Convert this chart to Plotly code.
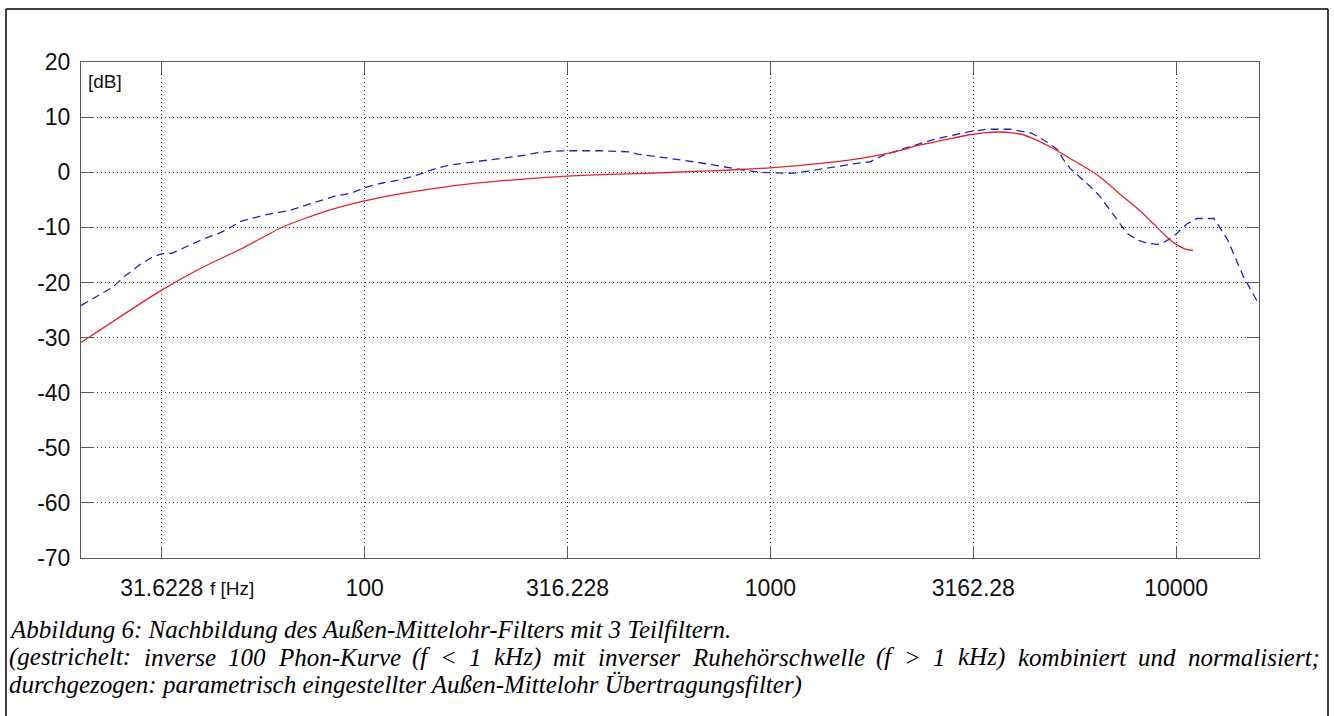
import plotly.graph_objects as go

# ---- axis ticks -------------------------------------------------------
tick_freqs = [10 ** 1.5, 100, 10 ** 2.5, 1000, 10 ** 3.5, 10000]
tick_text = ["31.6228", "100", "316.228", "1000", "3162.28", "10000"]
db_ticks = [20, 10, 0, -10, -20, -30, -40, -50, -60, -70]

# ---- dashed: inverse 100-phon curve / inverse threshold in quiet --------
ref_freq = [20, 21, 22.5, 24, 25.5, 27.9, 30, 31.6, 33.5, 36, 39.5, 43.7, 46,
            49.5, 53, 57.3, 65.6, 70, 76, 84, 92.5, 101, 110, 122, 135, 142,
            150, 162, 175, 189, 210, 228, 250, 265, 290, 316, 380, 450, 470,
            540, 600, 646, 700, 752, 820, 873, 940, 1000, 1100, 1163, 1300,
            1461, 1600, 1760, 1900, 2200, 2570, 2850, 3090, 3420, 3900, 4400,
            4850, 5120, 5250, 5480, 5800, 6140, 6460, 6760, 7200, 7570, 8030,
            8500, 8980, 9400, 9830, 10200, 10620, 11250, 12400, 13400, 14660,
            16000]
ref_db = [-24.2, -23.3, -22.0, -20.8, -19.0, -16.8, -15.4, -14.8, -14.7, -13.6,
          -12.3, -11.1, -10.3, -8.9, -8.3, -7.7, -6.9, -6.3, -5.4, -4.4, -3.8,
          -2.7, -2.0, -1.4, -0.5, 0.1, 0.7, 1.3, 1.6, 1.9, 2.3, 2.7, 3.1, 3.5,
          3.8, 3.9, 3.9, 3.7, 3.3, 2.7, 2.3, 1.9, 1.5, 1.1, 0.7, 0.3, 0.0, -0.1,
          -0.2, -0.1, 0.5, 1.0, 1.5, 1.9, 3.1, 4.6, 6.1, 6.8, 7.35, 7.8, 7.8,
          7.1, 5.3, 4.0, 2.5, 0.7, -0.9, -2.6, -4.2, -6.2, -8.8, -11.1, -12.3,
          -12.9, -13.1, -12.6, -11.7, -10.6, -9.4, -8.4, -8.4, -12.3, -19.0,
          -24.0]

# ---- solid: parametric outer/middle ear transfer filter -----------------
filt_freq = [20, 25, 31.6, 40, 50, 63, 80, 100, 125, 160, 200, 250, 316, 400,
             500, 630, 800, 1000, 1330, 1760, 2000, 2330, 2700, 3090, 3400,
             3650, 3900, 4200, 4500, 4980, 5480, 6000, 6500, 7000, 7500, 8000,
             8500, 9000, 9500, 10000, 10500, 11000]
filt_db = [-30.9, -26.2, -21.4, -17.2, -13.8, -9.9, -7.1, -5.2, -3.8, -2.6,
           -1.8, -1.2, -0.7, -0.4, -0.2, 0.1, 0.4, 0.8, 1.6, 2.8, 3.6, 4.9,
           5.9, 6.8, 7.2, 7.3, 7.2, 6.8, 5.9, 4.3, 2.5, 0.8, -0.9, -2.9, -4.8,
           -6.5, -8.3, -10.1, -11.8, -13.1, -13.9, -14.2]

# ---- caption ------------------------------------------------------------
caption_1 = "Abbildung 6: Nachbildung des Außen-Mittelohr-Filters mit 3 Teilfiltern."
caption_2_words = ["(gestrichelt:", "inverse", "100", "Phon-Kurve", "(f", "<",
                   "1", "kHz)", "mit", "inverser", "Ruhehörschwelle", "(f",
                   ">", "1", "kHz)", "kombiniert", "und", "normalisiert;"]
# left edge of each word of the justified second line (px)
caption_2_left = [8, 142.5, 227, 277, 411, 439, 468, 493, 552, 597, 691, 875,
                  903, 932, 957, 1016.5, 1137, 1187]
caption_3 = "durchgezogen: parametrisch eingestellter Außen-Mittelohr Übertragungsfilter)"

# ---- page geometry (pixels) --------------------------------------------
W, H = 1334, 716
L, R, T, B = 81, 1259, 62, 558


def xp(px):
    return (px - L) / (R - L)


def yp(py):
    return (B - py) / (B - T)


fig = go.Figure()
fig.add_trace(go.Scatter(
    x=ref_freq, y=ref_db, mode="lines",
    line=dict(color="#2424b8", width=1.3, dash="8px,5px"),
    showlegend=False, hoverinfo="skip"))
fig.add_trace(go.Scatter(
    x=filt_freq, y=filt_db, mode="lines",
    line=dict(color="#e4222a", width=1.3, shape="spline", smoothing=0.5),
    showlegend=False, hoverinfo="skip"))

axis_common = dict(
    showline=True, linecolor="#5a5a5a", linewidth=1, mirror="ticks",
    ticks="inside", ticklen=12, tickcolor="#5a5a5a", tickwidth=1,
    showgrid=True, gridcolor="#3c3c3c", gridwidth=1, griddash="1px,3px",
    zeroline=False,
    tickfont=dict(family="Liberation Sans, Arial, sans-serif", size=23,
                  color="#111"),
)

fig.update_xaxes(type="log", range=[1.30103, 4.20412], tickvals=tick_freqs,
                 ticktext=tick_text, ticklabelstandoff=9, **axis_common)
fig.update_yaxes(range=[-70, 20], tickvals=db_ticks,
                 ticktext=[str(v) for v in db_ticks], ticklabelstandoff=5,
                 **axis_common)

label_font = dict(family="Liberation Sans, Arial, sans-serif", size=19,
                  color="#111")
annotations = [
    dict(text="[dB]", x=xp(87), y=yp(82), xanchor="left", yanchor="middle",
         font=label_font),
    dict(text="f [Hz]", x=xp(209), y=yp(588), xanchor="left",
         yanchor="middle", font=label_font),
]

cap_font = dict(family="Liberation Serif, Times New Roman, serif", size=25,
                color="#000", style="italic")
annotations.append(dict(text=caption_1, x=xp(8), y=yp(629), xanchor="left",
                        yanchor="middle", font=cap_font))
for word, left in zip(caption_2_words, caption_2_left):
    annotations.append(dict(text=word, x=xp(left), y=yp(657), xanchor="left",
                            yanchor="middle", font=cap_font))
annotations.append(dict(text=caption_3, x=xp(8), y=yp(685), xanchor="left",
                        yanchor="middle", font=cap_font))
for a in annotations:
    a.update(xref="paper", yref="paper", showarrow=False, borderpad=0)

# outer frame around figure and caption
frame = dict(type="line", xref="paper", yref="paper",
             line=dict(color="#000", width=1.5))
shapes = [
    dict(frame, x0=xp(6), x1=xp(6), y0=yp(9), y1=yp(720)),
    dict(frame, x0=xp(6), x1=xp(1328), y0=yp(9), y1=yp(9)),
    dict(frame, x0=xp(1328), x1=xp(1328), y0=yp(9), y1=yp(720)),
]

fig.update_layout(
    width=W, height=H,
    margin=dict(l=L, r=W - R, t=T, b=H - B, pad=0),
    paper_bgcolor="white", plot_bgcolor="white",
    annotations=annotations, shapes=shapes,
)

fig.write_html("out.html")
